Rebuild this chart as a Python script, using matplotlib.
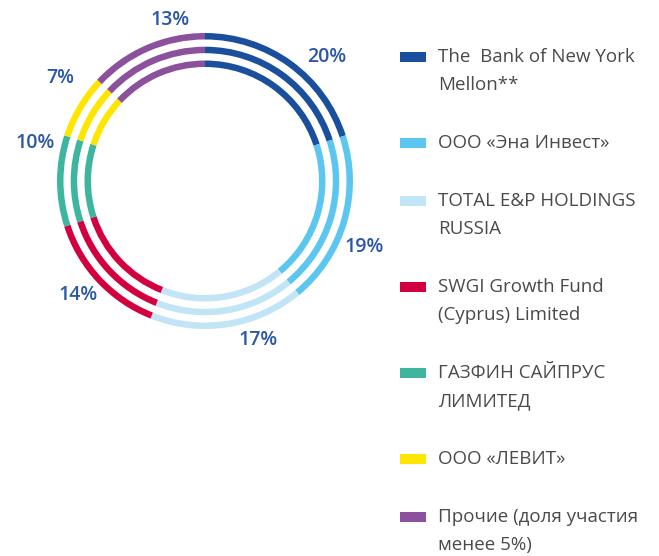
import matplotlib
matplotlib.use("Agg")
import matplotlib.pyplot as plt
from matplotlib.patches import Rectangle

# shareholders, shares (%) and colours
labels = ["The  Bank of New York\nMellon**",
          "ООО «Эна Инвест»",
          "TOTAL E&P HOLDINGS\nRUSSIA",
          "SWGI Growth Fund\n(Cyprus) Limited",
          "ГАЗФИН САЙПРУС\nЛИМИТЕД",
          "ООО «ЛЕВИТ»",
          "Прочие (доля участия\nменее 5%)"]
shares = [20, 19, 17, 14, 10, 7, 13]
colors = ["#1a4f9e", "#5bc6ef", "#c2e4f7", "#d2003f", "#3db59f", "#ffe500", "#8b519c"]

W, H = 659, 556
fig = plt.figure(figsize=(W / 100, H / 100), dpi=100)
ax = fig.add_axes([0, 0, 1, 1])

cx, cy = 205, H - 181
for r in (148, 134.3, 120.5):
    ax.pie(shares, colors=colors, startangle=90, counterclock=False,
           radius=r, center=(cx, cy), frame=True,
           wedgeprops=dict(width=6.5, linewidth=0))

# percentage labels, placed by hand around the ring
label_pos = [(327, 57), (364, 247), (258, 340), (78, 295), (35, 143), (60, 78), (170, 20)]
for s, (x, y) in zip(shares, label_pos):
    ax.text(x, H - y, f"{s}%", ha="center", va="center", fontsize=14,
            fontweight="semibold", color="#2b58a6", family="Open Sans")

# legend
y = 57
for lab, c in zip(labels, colors):
    ax.add_patch(Rectangle((400, H - y - 5), 25.5, 10, color=c, lw=0))
    lines = lab.split("\n")
    for i, line in enumerate(lines):
        ax.text(438, H - y - i * 28, line, ha="left", va="center",
                fontsize=13.5, color="#4a4a4a", family="Open Sans")
    y += 28 * len(lines) + 30

ax.set_xlim(0, W)
ax.set_ylim(0, H)
ax.set_aspect("equal")
ax.axis("off")

fig.savefig("out.png", dpi=100)
